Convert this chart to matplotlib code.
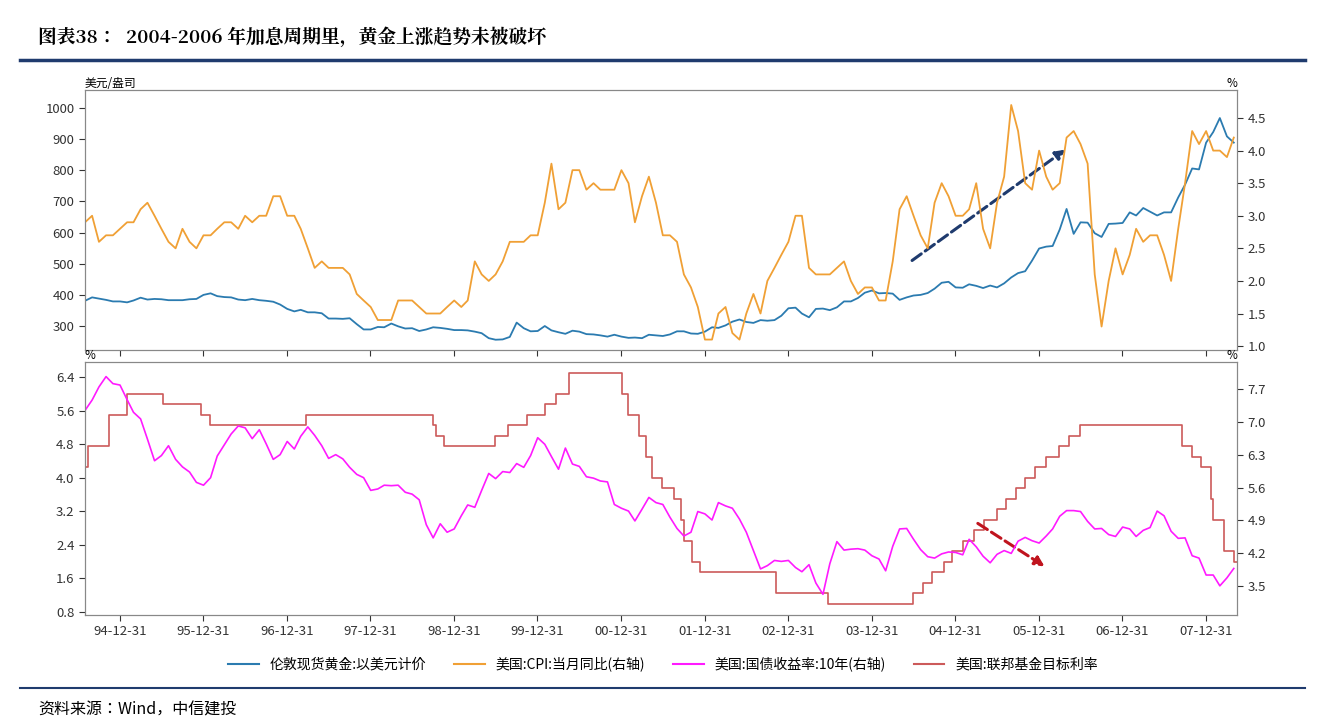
import matplotlib
matplotlib.use("Agg")
import matplotlib.pyplot as plt
import matplotlib.dates as mdates
import matplotlib.lines as mlines
import pandas as pd

plt.rcParams["font.family"] = ["Noto Sans CJK JP", "DejaVu Sans"]
plt.rcParams["font.size"] = 9.5

MONTHS = pd.date_range("1994-08-01", periods=166, freq="MS")

GOLD = [381, 392, 388, 384, 379,
        379, 376, 382, 391, 385, 387, 386, 383, 383, 383, 386, 387,
        400, 405, 396, 393, 392, 385, 383, 387, 383, 381, 378, 369,
        355, 347, 352, 344, 344, 341, 324, 324, 323, 325, 306, 289,
        289, 297, 296, 308, 299, 292, 293, 284, 289, 296, 294, 291,
        287, 287, 286, 282, 277, 261, 256, 257, 265, 311, 293, 283,
        284, 300, 286, 280, 275, 285, 282, 274, 273, 270, 266, 272,
        266, 262, 263, 261, 272, 270, 268, 273, 283, 283, 276, 275,
        282, 296, 294, 302, 314, 321, 313, 310, 319, 317, 319, 333,
        357, 359, 340, 328, 355, 356, 351, 360, 379, 379, 390, 407,
        414, 405, 406, 404, 384, 392, 398, 400, 406, 420, 439, 442,
        424, 423, 434, 429, 422, 430, 424, 437, 456, 470, 476, 510,
        549, 555, 557, 610, 676, 596, 633, 632, 598, 586, 628, 629,
        631, 665, 655, 679, 667, 655, 665, 665, 713, 754, 806, 803,
        889, 923, 968, 909, 889]

CPI = [2.9, 3.0, 2.6, 2.7, 2.7,
       2.8, 2.9, 2.9, 3.1, 3.2, 3.0, 2.8, 2.6, 2.5, 2.8, 2.6, 2.5,
       2.7, 2.7, 2.8, 2.9, 2.9, 2.8, 3.0, 2.9, 3.0, 3.0, 3.3, 3.3,
       3.0, 3.0, 2.8, 2.5, 2.2, 2.3, 2.2, 2.2, 2.2, 2.1, 1.8, 1.7,
       1.6, 1.4, 1.4, 1.4, 1.7, 1.7, 1.7, 1.6, 1.5, 1.5, 1.5, 1.6,
       1.7, 1.6, 1.7, 2.3, 2.1, 2.0, 2.1, 2.3, 2.6, 2.6, 2.6, 2.7,
       2.7, 3.2, 3.8, 3.1, 3.2, 3.7, 3.7, 3.4, 3.5, 3.4, 3.4, 3.4,
       3.7, 3.5, 2.9, 3.3, 3.6, 3.2, 2.7, 2.7, 2.6, 2.1, 1.9, 1.6,
       1.1, 1.1, 1.5, 1.6, 1.2, 1.1, 1.5, 1.8, 1.5, 2.0, 2.2, 2.4,
       2.6, 3.0, 3.0, 2.2, 2.1, 2.1, 2.1, 2.2, 2.3, 2.0, 1.8, 1.9,
       1.9, 1.7, 1.7, 2.3, 3.1, 3.3, 3.0, 2.7, 2.5, 3.2, 3.5, 3.3,
       3.0, 3.0, 3.1, 3.5, 2.8, 2.5, 3.2, 3.6, 4.7, 4.3, 3.5, 3.4,
       4.0, 3.6, 3.4, 3.5, 4.2, 4.3, 4.1, 3.8, 2.1, 1.3, 2.0, 2.5,
       2.1, 2.4, 2.8, 2.6, 2.7, 2.7, 2.4, 2.0, 2.8, 3.5, 4.3, 4.1,
       4.3, 4.0, 4.0, 3.9, 4.2]

UST10Y = [7.24, 7.46, 7.74, 7.96, 7.81,
          7.78, 7.47, 7.20, 7.06, 6.63, 6.17, 6.28, 6.49, 6.20, 6.04, 5.93, 5.71,
          5.65, 5.81, 6.27, 6.51, 6.74, 6.91, 6.87, 6.64, 6.83, 6.53, 6.20, 6.30,
          6.58, 6.42, 6.69, 6.89, 6.71, 6.49, 6.22, 6.30, 6.21, 6.03, 5.88, 5.81,
          5.54, 5.57, 5.65, 5.64, 5.65, 5.50, 5.46, 5.34, 4.81, 4.53, 4.83, 4.65,
          4.72, 5.00, 5.23, 5.18, 5.54, 5.90, 5.79, 5.94, 5.92, 6.11, 6.03, 6.28,
          6.66, 6.52, 6.26, 5.99, 6.44, 6.10, 6.05, 5.83, 5.80, 5.74, 5.72, 5.24,
          5.16, 5.10, 4.89, 5.14, 5.39, 5.28, 5.24, 4.97, 4.73, 4.57, 4.65, 5.09,
          5.04, 4.91, 5.28, 5.21, 5.16, 4.93, 4.65, 4.26, 3.87, 3.94, 4.05, 4.03,
          4.05, 3.90, 3.81, 3.96, 3.57, 3.33, 3.98, 4.45, 4.27, 4.29, 4.30, 4.27,
          4.15, 4.08, 3.83, 4.35, 4.72, 4.73, 4.50, 4.28, 4.13, 4.10, 4.19, 4.23,
          4.22, 4.17, 4.50, 4.34, 4.14, 4.00, 4.18, 4.26, 4.20, 4.46, 4.54, 4.47,
          4.42, 4.57, 4.72, 4.99, 5.11, 5.11, 5.09, 4.88, 4.72, 4.73, 4.60, 4.56,
          4.76, 4.72, 4.56, 4.69, 4.75, 5.10, 5.00, 4.67, 4.52, 4.53, 4.15, 4.10,
          3.74, 3.74, 3.51, 3.68, 3.88]

FED_DATES = ["1994-08-01", "1994-08-16", "1994-11-15", "1995-02-01", "1995-07-06",
             "1995-12-19", "1996-01-31", "1997-03-25", "1998-09-29", "1998-10-15",
             "1998-11-17", "1999-06-30", "1999-08-24", "1999-11-16", "2000-02-02",
             "2000-03-21", "2000-05-16", "2001-01-03", "2001-01-31", "2001-03-20",
             "2001-04-18", "2001-05-15", "2001-06-27", "2001-08-21", "2001-09-17",
             "2001-10-02", "2001-11-06", "2001-12-11", "2002-11-06", "2003-06-25",
             "2004-06-30", "2004-08-10", "2004-09-21", "2004-11-10", "2004-12-14",
             "2005-02-02", "2005-03-22", "2005-05-03", "2005-06-30", "2005-08-09",
             "2005-09-20", "2005-11-01", "2005-12-13", "2006-01-31", "2006-03-28",
             "2006-05-10", "2006-06-29", "2007-09-18", "2007-10-31", "2007-12-11",
             "2008-01-22", "2008-01-30", "2008-03-18", "2008-04-30", "2008-05-31"]
FED_RATE = [4.25, 4.75, 5.5, 6.0, 5.75, 5.5, 5.25, 5.5, 5.25, 5.0,
            4.75, 5.0, 5.25, 5.5, 5.75, 6.0, 6.5, 6.0, 5.5, 5.0,
            4.5, 4.0, 3.75, 3.5, 3.0, 2.5, 2.0, 1.75, 1.25, 1.0,
            1.25, 1.5, 1.75, 2.0, 2.25, 2.5, 2.75, 3.0, 3.25, 3.5,
            3.75, 4.0, 4.25, 4.5, 4.75, 5.0, 5.25, 4.75, 4.5, 4.25,
            3.5, 3.0, 2.25, 2.0, 2.0]

TICK_DATES = pd.to_datetime([f"{y}-12-31" for y in range(1994, 2008)])

C_GOLD = "#2b7bb0"
C_CPI = "#f0a035"
C_UST = "#ff1aff"
C_FED = "#cc5a5a"
SPINE = "#888888"
NAVY = "#1f3b6e"

fig = plt.figure(figsize=(13.26, 7.26), dpi=100)
W, H = 1326, 726
xlim = (pd.Timestamp("1994-08-01"), pd.Timestamp("2008-05-15"))


def style(ax):
    for s in ax.spines.values():
        s.set_color(SPINE)
    ax.tick_params(colors="#333333", direction="out", length=4)


# ---- top panel
ax1 = fig.add_axes([85 / W, 1 - 350 / H, 1152 / W, 260 / H])
ax1.plot(MONTHS, GOLD, color=C_GOLD, lw=1.3)
ax1.set_ylim(223, 1058)
ax1.set_yticks(range(300, 1001, 100))
ax1.set_xlim(*xlim)
ax1.set_xticks(TICK_DATES)
ax1.tick_params(axis="x", labelbottom=False)
ax1b = ax1.twinx()
ax1b.plot(MONTHS, CPI, color=C_CPI, lw=1.3)
ax1b.set_ylim(0.94, 4.93)
ax1b.set_yticks([1.0, 1.5, 2.0, 2.5, 3.0, 3.5, 4.0, 4.5])
ax1b.set_yticklabels([f"{v:.1f}" for v in ax1b.get_yticks()])
for a in (ax1, ax1b):
    style(a)
ax1.text(0.0, 1.0, "美元/盎司", transform=ax1.transAxes, fontsize=8.5, va="bottom", ha="left")
ax1b.text(1.0, 1.0, "%", transform=ax1.transAxes, fontsize=8.5, va="bottom", ha="right")
ax1.annotate("", xy=(0.853, 0.777), xytext=(0.716, 0.338), xycoords="axes fraction",
             arrowprops=dict(arrowstyle="-|>", color=NAVY, lw=2.2, ls="--", mutation_scale=14))

# ---- bottom panel
ax2 = fig.add_axes([85 / W, 1 - 615 / H, 1152 / W, 253 / H])
ax2.step(pd.to_datetime(FED_DATES), FED_RATE, where="post", color=C_FED, lw=1.2)
ax2.set_ylim(0.73, 6.76)
ax2.set_yticks([0.8, 1.6, 2.4, 3.2, 4.0, 4.8, 5.6, 6.4])
ax2.set_xlim(*xlim)
ax2.set_xticks(TICK_DATES)
ax2.xaxis.set_major_formatter(mdates.DateFormatter("%y-%m-%d"))
ax2b = ax2.twinx()
ax2b.plot(MONTHS, UST10Y, color=C_UST, lw=1.2)
ax2b.set_ylim(2.89, 8.27)
ax2b.set_yticks([3.5, 4.2, 4.9, 5.6, 6.3, 7.0, 7.7])
for a in (ax2, ax2b):
    style(a)
ax2.text(0.0, 1.0, "%", transform=ax2.transAxes, fontsize=8.5, va="bottom", ha="left")
ax2.text(1.0, 1.0, "%", transform=ax2.transAxes, fontsize=8.5, va="bottom", ha="right")
ax2.annotate("", xy=(0.835, 0.186), xytext=(0.773, 0.368), xycoords="axes fraction",
             arrowprops=dict(arrowstyle="-|>", color="#c0141e", lw=2.2, ls="--", mutation_scale=14))

# ---- legend
handles = [mlines.Line2D([], [], color=C_GOLD, lw=1.5, label="伦敦现货黄金:以美元计价"),
           mlines.Line2D([], [], color=C_CPI, lw=1.5, label="美国:CPI:当月同比(右轴)"),
           mlines.Line2D([], [], color=C_UST, lw=1.5, label="美国:国债收益率:10年(右轴)"),
           mlines.Line2D([], [], color=C_FED, lw=1.5, label="美国:联邦基金目标利率")]
fig.legend(handles=handles, loc="center", bbox_to_anchor=(0.5, 1 - 664 / H), ncol=4,
           frameon=False, fontsize=10, handlelength=2.2, columnspacing=2.0)

# ---- header / footer
fig.text(38 / W, 1 - 38 / H, "图表38：  2004-2006 年加息周期里，黄金上涨趋势未被破坏",
         fontsize=13.5, fontweight="bold", family="Noto Serif CJK JP", va="center", ha="left")
fig.add_artist(mlines.Line2D([20 / W, 1305 / W], [1 - 60 / H] * 2, color=NAVY, lw=2.5))
fig.add_artist(mlines.Line2D([20 / W, 1305 / W], [1 - 688 / H] * 2, color=NAVY, lw=1.5))
fig.text(38 / W, 1 - 710 / H, "资料来源：Wind，中信建投", fontsize=11.5, style="italic",
         va="center", ha="left")

fig.savefig("out.png", dpi=100)
